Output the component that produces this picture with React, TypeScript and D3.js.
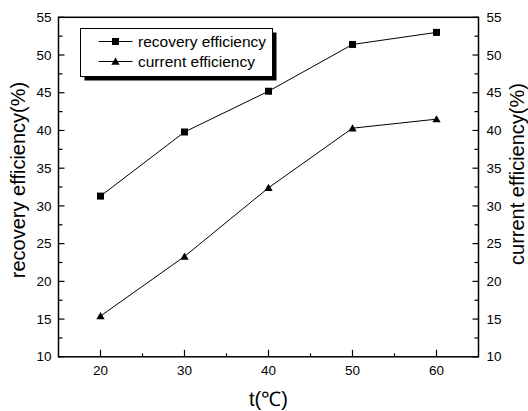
import React, { useEffect, useRef } from 'react';
import * as d3 from 'd3';

// temperatures (°C)
const temps = [20, 30, 40, 50, 60];
// recovery efficiency (%), left axis
const recovery = [31.3, 39.8, 45.2, 51.4, 53.0];
// current efficiency (%), right axis
const current = [15.4, 23.3, 32.4, 40.3, 41.5];

const xTicks = [20, 30, 40, 50, 60];
const xMinor = [25, 35, 45, 55];
const yTicks = [10, 15, 20, 25, 30, 35, 40, 45, 50, 55];
const yMinor = [12.5, 17.5, 22.5, 27.5, 32.5, 37.5, 42.5, 47.5, 52.5];

const seriesNames = ['recovery efficiency', 'current efficiency'];

const FONT = '"Liberation Sans", Arial, sans-serif';

export default function App() {
    const svgRef = useRef<SVGSVGElement>(null);

    useEffect(() => {
        const width = 528, height = 411;
        const margin = { top: 17.3, right: 49.5, bottom: 54.2, left: 58.5 };
        const innerW = width - margin.left - margin.right;
        const innerH = height - margin.top - margin.bottom;

        const root = d3.select(svgRef.current)
            .attr('width', width)
            .attr('height', height);
        root.selectAll('*').remove();

        root.append('rect')
            .attr('width', width)
            .attr('height', height)
            .attr('fill', '#fff');

        const svg = root.append('g')
            .attr('transform', `translate(${margin.left},${margin.top})`);

        const x = d3.scaleLinear().domain([15, 65]).range([0, innerW]);
        const yL = d3.scaleLinear().domain([10, 55]).range([innerH, 0]);
        const yR = d3.scaleLinear().domain([10, 55]).range([innerH, 0]);

        // ticks, all pointing inward
        const ticks = svg.append('g').attr('stroke', '#000').attr('stroke-width', 1.2);
        xTicks.forEach(v => {
            ticks.append('line').attr('x1', x(v)).attr('x2', x(v)).attr('y1', innerH).attr('y2', innerH - 7);
        });
        xMinor.forEach(v => {
            ticks.append('line').attr('x1', x(v)).attr('x2', x(v)).attr('y1', innerH).attr('y2', innerH - 3.5);
        });
        yTicks.forEach(v => {
            ticks.append('line').attr('x1', 0).attr('x2', 6).attr('y1', yL(v)).attr('y2', yL(v));
            ticks.append('line').attr('x1', innerW).attr('x2', innerW - 6).attr('y1', yR(v)).attr('y2', yR(v));
        });
        yMinor.forEach(v => {
            ticks.append('line').attr('x1', 0).attr('x2', 4).attr('y1', yL(v)).attr('y2', yL(v));
            ticks.append('line').attr('x1', innerW).attr('x2', innerW - 4).attr('y1', yR(v)).attr('y2', yR(v));
        });

        // frame
        svg.append('rect')
            .attr('width', innerW)
            .attr('height', innerH)
            .attr('fill', 'none')
            .attr('stroke', '#000')
            .attr('stroke-width', 1.5);

        // tick labels (digits in the source are a bit wider than Arial)
        const labels = svg.append('g')
            .attr('font-family', FONT)
            .attr('font-size', 13)
            .attr('fill', '#000');
        xTicks.forEach(v => {
            labels.append('text')
                .attr('x', x(v))
                .attr('y', innerH + 18.5)
                .attr('text-anchor', 'middle')
                .attr('textLength', 15)
                .attr('lengthAdjust', 'spacingAndGlyphs')
                .text(v);
        });
        yTicks.forEach(v => {
            labels.append('text')
                .attr('x', -7)
                .attr('y', yL(v))
                .attr('dy', '0.36em')
                .attr('text-anchor', 'end')
                .attr('textLength', 15)
                .attr('lengthAdjust', 'spacingAndGlyphs')
                .text(v);
            labels.append('text')
                .attr('x', innerW + 8)
                .attr('y', yR(v))
                .attr('dy', '0.36em')
                .attr('text-anchor', 'start')
                .attr('textLength', 15)
                .attr('lengthAdjust', 'spacingAndGlyphs')
                .text(v);
        });

        // axis titles
        root.append('text')
            .attr('x', margin.left + innerW / 2)
            .attr('y', 406)
            .attr('text-anchor', 'middle')
            .attr('font-family', FONT)
            .attr('font-size', 20)
            .text('t(℃)');

        root.append('text')
            .attr('transform', 'translate(25,180) rotate(-90)')
            .attr('text-anchor', 'middle')
            .attr('font-family', FONT)
            .attr('font-size', 20)
            .text('recovery efficiency(%)');

        root.append('text')
            .attr('transform', 'translate(524,174) rotate(-90)')
            .attr('text-anchor', 'middle')
            .attr('font-family', FONT)
            .attr('font-size', 20)
            .text('current efficiency(%)');

        // lines
        const lineL = d3.line<number>().x((d, i) => x(temps[i])).y(d => yL(d));
        const lineR = d3.line<number>().x((d, i) => x(temps[i])).y(d => yR(d));

        svg.append('path')
            .attr('d', lineL(recovery))
            .attr('fill', 'none')
            .attr('stroke', '#000')
            .attr('stroke-width', 1);
        svg.append('path')
            .attr('d', lineR(current))
            .attr('fill', 'none')
            .attr('stroke', '#000')
            .attr('stroke-width', 1);

        const square = d3.symbol().type(d3.symbolSquare).size(49);
        const triangle = d3.symbol().type(d3.symbolTriangle).size(30);

        svg.append('g').selectAll('path')
            .data(recovery)
            .join('path')
            .attr('d', square() as string)
            .attr('transform', (d, i) => `translate(${x(temps[i])},${yL(d)})`)
            .attr('fill', '#000');

        svg.append('g').selectAll('path')
            .data(current)
            .join('path')
            .attr('d', triangle() as string)
            .attr('transform', (d, i) => `translate(${x(temps[i])},${yR(d) + 0.8})`)
            .attr('fill', '#000');

        // legend
        const lg = root.append('g').attr('transform', 'translate(80.5,28.5)');
        const lw = 192, lh = 48;
        lg.append('rect')
            .attr('x', 4).attr('y', 4)
            .attr('width', lw).attr('height', lh)
            .attr('fill', '#000');
        lg.append('rect')
            .attr('width', lw).attr('height', lh)
            .attr('fill', '#fff')
            .attr('stroke', '#000')
            .attr('stroke-width', 1);

        const shapes = [square, triangle];
        seriesNames.forEach((name, i) => {
            const cy = 13 + i * 20;
            lg.append('line')
                .attr('x1', 18).attr('x2', 52)
                .attr('y1', cy).attr('y2', cy)
                .attr('stroke', '#000')
                .attr('stroke-width', 1);
            lg.append('path')
                .attr('d', shapes[i]() as string)
                .attr('transform', `translate(35,${cy + (i === 1 ? 0.8 : 0)})`)
                .attr('fill', '#000');
            lg.append('text')
                .attr('x', 57.5)
                .attr('y', cy)
                .attr('dy', '0.35em')
                .attr('font-family', FONT)
                .attr('font-size', 15.5)
                .text(name);
        });
    }, []);

    return (
        <svg ref={svgRef} style={{ position: 'absolute', left: 0, top: 0 }}></svg>
    );
}
